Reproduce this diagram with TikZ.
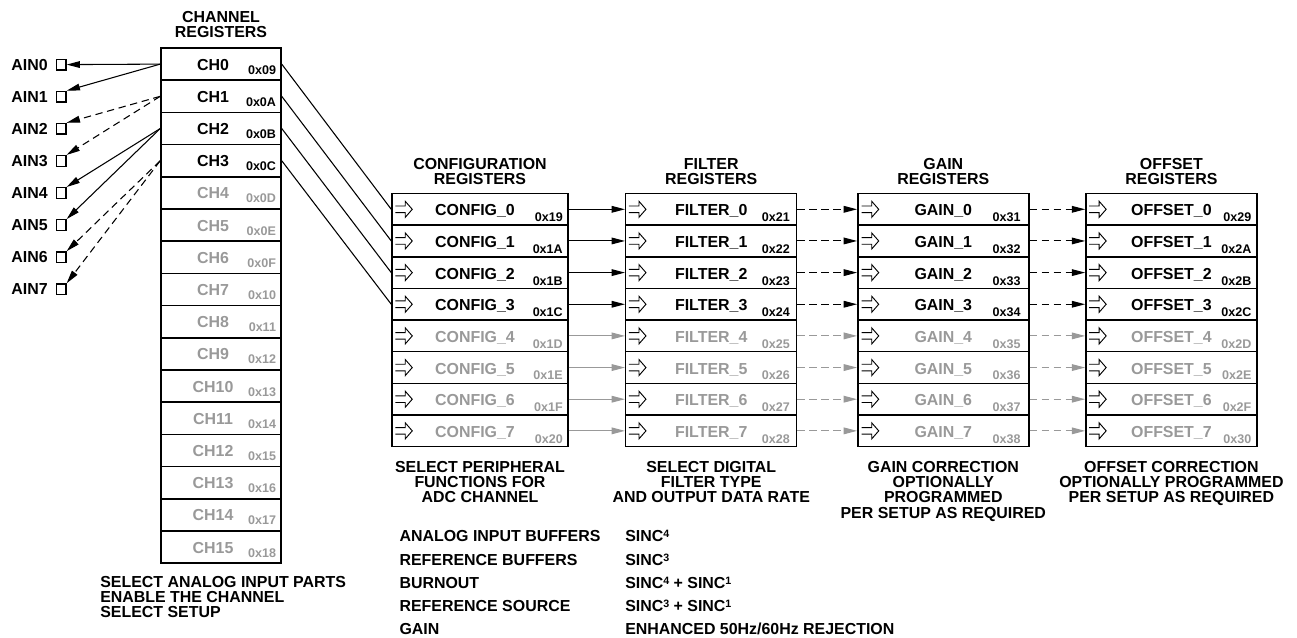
\documentclass[tikz,border=0pt]{standalone}
\usepackage{fontspec}
\setmainfont{Liberation Sans}
\usetikzlibrary{positioning,arrows.meta}

\definecolor{inaktiv}{gray}{0.6}
\newcommand\hoch[1]{\raisebox{3pt}{\fontsize{8}{8}\selectfont#1}}

\tikzset{
	reg/.style={draw, line width=1.1pt, inner sep=0pt, minimum height=23.74pt},
	txt/.style={font=\fontsize{11.95}{11.3}\selectfont\bfseries, inner sep=0pt},
	adr/.style={font=\fontsize{9.4}{10}\selectfont\bfseries, inner sep=0pt, anchor=base east},
	kopf/.style={txt, align=center},
	pfeil/.style={line width=0.8pt, -{Triangle[length=10pt,width=5pt]}},
	strich/.style={dash pattern=on 5.5pt off 3.5pt},
	eingang/.pic={\draw[line width=0.7pt, black] (0,-3.3) -- (10,-3.3) -- (10,-8) -- (17,0) -- (10,8) -- (10,3.3) -- (0,3.3);}
}

\begin{document}
\begin{tikzpicture}[x=0.75pt, y=-0.75pt]
	
	\useasboundingbox (0,0) rectangle (1297,637);
	
	% Kanalregister CH0 ... CH15
	\foreach \i/\a in {0/09,1/0A,2/0B,3/0C,4/0D,5/0E,6/0F,7/10,8/11,9/12,10/13,11/14,12/15,13/16,14/17,15/18}{
		\ifnum\i<4 \def\farbe{black}\else\def\farbe{inaktiv}\fi
		\node[reg, minimum width=90pt, minimum height=24.15pt] (ch\i) at (221,64.1+32.2*\i) {};
		\node[txt, text=\farbe, anchor=base] (chn\i) at ([xshift=-6pt, yshift=-4.5pt]ch\i.center) {CH\i};
		\node[adr, text=\farbe] (cha\i) at ([xshift=-4.1pt, yshift=-7.5pt]ch\i.east) {0x\a};
	}
	\node[kopf, above=6.75pt of ch0] (chkopf) {CHANNEL\\REGISTERS};
	
	% Analoge Eingänge
	\foreach \i in {0,...,7}{
		\node[draw, line width=1pt, minimum width=7pt, minimum height=8pt, inner sep=0pt] (ain\i) at (61.3,64.6+32.1*\i) {};
		\node[txt, left=6pt of ain\i] (ainl\i) {AIN\i};
	}
	
	% Zuordnung Kanal -> Eingang
	\draw[pfeil] (ch0.west) -- (ain0.east);
	\draw[pfeil] (ch0.west) -- (ain1.north east);
	\draw[pfeil, strich] (ch1.west) -- (ain2.north east);
	\draw[pfeil, strich] (ch1.west) -- (ain3.north east);
	\draw[pfeil] (ch2.west) -- (ain4.north east);
	\draw[pfeil] (ch2.west) -- (ain5.north east);
	\draw[pfeil, strich] (ch3.west) -- (ain6.north east);
	\draw[pfeil, strich] (ch3.west) -- (ain7.north east);
	
	% Setup-Register: Config, Filter, Gain, Offset
	\foreach \i/\adrA/\adrB/\adrC/\adrD in {0/19/21/31/29,1/1A/22/32/2A,2/1B/23/33/2B,3/1C/24/34/2C,4/1D/25/35/2D,5/1E/26/36/2E,6/1F/27/37/2F,7/20/28/38/30}{
		\ifnum\i<4 \def\farbe{black}\else\def\farbe{inaktiv}\fi
		\node[reg, minimum width=132pt] (cfg\i) at (480,209.3+31.65*\i) {};
		\node[reg, minimum width=128.25pt] (fil\i) at (711.2,209.3+31.65*\i) {};
		\node[reg, minimum width=128.25pt] (gain\i) at (943.3,209.3+31.65*\i) {};
		\node[reg, minimum width=128.25pt] (off\i) at (1171.4,209.3+31.65*\i) {};
		
		\pic at ([xshift=3pt]cfg\i.west) {eingang};
		\pic at ([xshift=3pt]fil\i.west) {eingang};
		\pic at ([xshift=3.5pt]gain\i.west) {eingang};
		\pic at ([xshift=3pt]off\i.west) {eingang};
		
		\node[txt, text=\farbe, anchor=base] (cfgn\i) at ([xshift=-3.75pt, yshift=-4.9pt]cfg\i.center) {CONFIG\_\i};
		\node[txt, text=\farbe, anchor=base] (filn\i) at ([yshift=-4.9pt]fil\i.center) {FILTER\_\i};
		\node[txt, text=\farbe, anchor=base] (gainn\i) at ([yshift=-4.9pt]gain\i.center) {GAIN\_\i};
		\node[txt, text=\farbe, anchor=base] (offn\i) at ([yshift=-4.9pt]off\i.center) {OFFSET\_\i};
		
		\node[adr, text=\farbe] (cfga\i) at ([xshift=-4.3pt, yshift=-9.3pt]cfg\i.east) {0x\adrA};
		\node[adr, text=\farbe] (fila\i) at ([xshift=-5.5pt, yshift=-9.3pt]fil\i.east) {0x\adrB};
		\node[adr, text=\farbe] (gaina\i) at ([xshift=-6.5pt, yshift=-9.3pt]gain\i.east) {0x\adrC};
		\node[adr, text=\farbe] (offa\i) at ([xshift=-4.5pt, yshift=-9.3pt]off\i.east) {0x\adrD};
		
		\draw[pfeil, color=\farbe] (cfg\i.east) -- (fil\i.west);
		\draw[pfeil, strich, color=\farbe] (fil\i.east) -- (gain\i.west);
		\draw[pfeil, strich, color=\farbe] (gain\i.east) -- (off\i.west);
	}
	
	% Kanal -> Config
	\foreach \i in {0,...,3}
		\draw[line width=0.8pt] (ch\i.east) -- (cfg\i.west);
	
	% Überschriften
	\node[kopf, above=5.6pt of cfg0] (cfgkopf) {CONFIGURATION\\REGISTERS};
	\node[kopf, above=5.6pt of fil0] (filkopf) {FILTER\\REGISTERS};
	\node[kopf, above=5.6pt of gain0] (gainkopf) {GAIN\\REGISTERS};
	\node[kopf, above=5.6pt of off0] (offkopf) {OFFSET\\REGISTERS};
	
	% Beschreibungen unten
	\node[txt, align=left, anchor=north west] (chtext) at (100,576) {SELECT ANALOG INPUT PARTS\\ENABLE THE CHANNEL\\SELECT SETUP};
	\node[kopf, below=10.5pt of cfg7] (cfgtext) {SELECT PERIPHERAL\\FUNCTIONS FOR\\ADC CHANNEL};
	\node[kopf, below=10.5pt of fil7] (filtext) {SELECT DIGITAL\\FILTER TYPE\\AND OUTPUT DATA RATE};
	\node[kopf, below=10.5pt of gain7] (gaintext) {GAIN CORRECTION\\OPTIONALLY\\PROGRAMMED\\PER SETUP AS REQUIRED};
	\node[kopf, below=10.5pt of off7] (offtext) {OFFSET CORRECTION\\OPTIONALLY PROGRAMMED\\PER SETUP AS REQUIRED};
	
	% Listen
	\foreach \t [count=\k from 0] in {ANALOG INPUT BUFFERS, REFERENCE BUFFERS, BURNOUT, REFERENCE SOURCE, GAIN}
		\node[txt, anchor=base west] (fkt\k) at (399.3,541.7+23.3*\k) {\t};
	\foreach \t [count=\k from 0] in {SINC\hoch{4}, SINC\hoch{3}, SINC\hoch{4} + SINC\hoch{1}, SINC\hoch{3} + SINC\hoch{1}, ENHANCED 50Hz/60Hz REJECTION}
		\node[txt, anchor=base west] (sinc\k) at (625,541.7+23.3*\k) {\t};
	
\end{tikzpicture}
\end{document}
